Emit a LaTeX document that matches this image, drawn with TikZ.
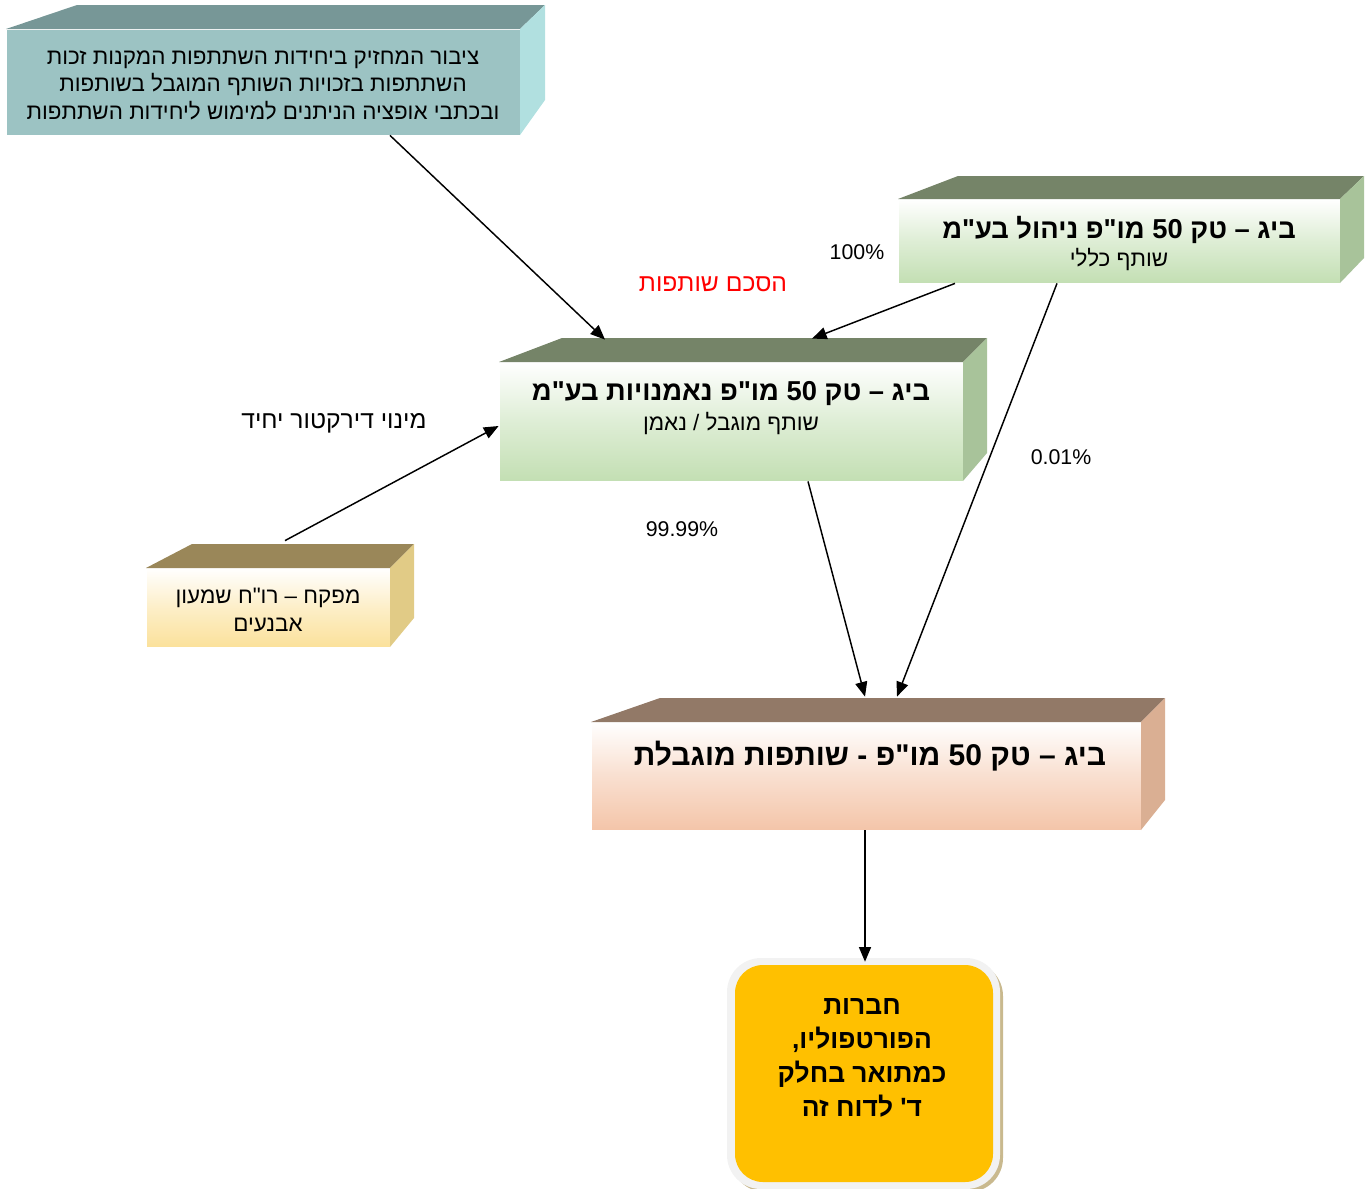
\documentclass[tikz,border=0pt]{standalone}
\usepackage{fontspec}
\setmainfont{Liberation Sans}
\newfontfamily\heb[Script=Hebrew,Ligatures=TeXOff]{Liberation Sans}
\TeXXeTstate=1
\usetikzlibrary{arrows.meta,calc}
\definecolor{tealF}{HTML}{9CC3C3}
\definecolor{tealT}{HTML}{779797}
\definecolor{tealR}{HTML}{B1E0E0}
\definecolor{grnF}{HTML}{C3DFB3}
\definecolor{grnT}{HTML}{758468}
\definecolor{grnR}{HTML}{A8C39A}
\definecolor{yelF}{HTML}{FBE19B}
\definecolor{yelT}{HTML}{9A8759}
\definecolor{yelR}{HTML}{E1CB86}
\definecolor{salF}{HTML}{F4C5A9}
\definecolor{salT}{HTML}{927967}
\definecolor{salR}{HTML}{DAAF93}
\definecolor{portO}{HTML}{FFC000}
\definecolor{portRim}{HTML}{F2F2F2}
\definecolor{portSh}{HTML}{C9B98E}
\tikzset{
  conn/.style={line width=1.1pt,-{Triangle[length=11pt,width=9pt]}},
  front/.style={inner sep=0pt,draw=white,line width=0.6pt},
  grad/.style={top color=white,bottom color=#1,middle color=#1!55},
  lbl/.style={font=\fontsize{16}{19}\selectfont,inner sep=0pt},
  htext/.style={font=\heb\fontsize{16.8}{20.6}\selectfont,align=center,inner sep=0pt},
  bigtext/.style={font=\heb\fontsize{18.5}{22}\selectfont,inner sep=0pt},
  ttl/.style={font=\heb\bfseries\fontsize{20.5}{24}\selectfont,inner sep=0pt},
  porttext/.style={font=\heb\bfseries\fontsize{19.8}{25.5}\selectfont,align=center,inner sep=0pt},
}
\begin{document}
\begin{tikzpicture}[x=0.75pt,y=-0.75pt]
\useasboundingbox (0,0) rectangle (1368,1189);

% ---------- public (teal) ----------
\node[front,fill=tealF,minimum width={514*0.75pt},minimum height={106*0.75pt}] (pub) at (263,82) {};
\fill[tealT] (6,29) -- (77,5) -- (545,5) -- (520,29) -- cycle;
\fill[tealR] (520,29) -- (545,5) -- (545,100) -- (520,135) -- cycle;
\node[htext] (pubt) at (263,85) {\beginR ציבור המחזיק ביחידות השתתפות המקנות זכות\endR\\\beginR השתתפות בזכויות השותף המוגבל בשותפות\endR\\\beginR ובכתבי אופציה הניתנים למימוש ליחידות השתתפות\endR};

% ---------- general partner (green, top right) ----------
\node[front,grad=grnF,minimum width={442*0.75pt},minimum height={84*0.75pt}] (gen) at (1119,241) {};
\fill[grnT] (898,199) -- (958,176) -- (1364,176) -- (1340,199) -- cycle;
\fill[grnR] (1340,199) -- (1364,176) -- (1364,258) -- (1340,283) -- cycle;
\node[ttl] (gent) at (1119,230) {\beginR ביג – טק 50 מו"פ ניהול בע"מ\endR};
\node[htext] (gens) at (1119,259) {\beginR שותף כללי\endR};

% ---------- trustee (green, middle) ----------
\node[front,grad=grnF,minimum width={464*0.75pt},minimum height={119*0.75pt}] (mid) at (731,421.5) {};
\fill[grnT] (499,362) -- (562,338) -- (987,338) -- (963,362) -- cycle;
\fill[grnR] (963,362) -- (987,338) -- (987,453) -- (963,481) -- cycle;
\node[ttl] (midt) at (731,394) {\beginR ביג – טק 50 מו"פ נאמנויות בע"מ\endR};
\node[htext] (mids) at (731,423) {\beginR שותף מוגבל / נאמן\endR};

% ---------- supervisor (yellow) ----------
\node[front,grad=yelF,minimum width={244*0.75pt},minimum height={79*0.75pt}] (sup) at (268,607.5) {};
\fill[yelT] (146,568) -- (192,544) -- (414,544) -- (390,568) -- cycle;
\fill[yelR] (390,568) -- (414,544) -- (414,618) -- (390,647) -- cycle;
\node[htext] (supt) at (268,610) {\beginR מפקח – רו"ח שמעון\endR\\\beginR אבנעים\endR};

% ---------- limited partnership (salmon) ----------
\node[front,grad=salF,minimum width={550*0.75pt},minimum height={108*0.75pt}] (lp) at (866,776) {};
\fill[salT] (591,722) -- (660,698) -- (1165,698) -- (1141,722) -- cycle;
\fill[salR] (1141,722) -- (1165,698) -- (1165,800) -- (1141,830) -- cycle;
\node[ttl,font=\heb\bfseries\fontsize{22.5}{26}\selectfont] (lpt) at (870,756) {\beginR ביג – טק 50 מו"פ - שותפות מוגבלת\endR};

% ---------- portfolio companies ----------
\fill[portSh,rounded corners=34pt*0.75] (731,962) rectangle (1003,1192);
\fill[portRim,rounded corners=34pt*0.75] (727,958) rectangle (1000,1189);
\node[fill=portO,rounded corners={28*0.75pt},minimum width={258*0.75pt},minimum height={217*0.75pt},inner sep=0pt] (port) at (864,1073.5) {};
\node[porttext] (portt) at (862,1058) {\beginR חברות\endR\\\beginR הפורטפוליו,\endR\\\beginR כמתואר בחלק\endR\\\beginR ד' לדוח זה\endR};

% ---------- labels ----------
\node[bigtext,text=red] (agr) at (713,284) {\beginR הסכם שותפות\endR};
\node[bigtext] (dir) at (334,423) {\beginR מינוי דירקטור יחיד\endR};
\node[lbl] (p100) at (857,252) {100\%};
\node[lbl] (p001) at (1061,457) {0.01\%};
\node[lbl] (p9999) at (682,529) {99.99\%};

% ---------- connectors ----------
\draw[conn] (pub.south -| 390,0) -- ($(mid.north -| 605,0)+(0,-22)$);
\draw[conn] (gen.south -| 955,0) -- ($(mid.north -| 812,0)+(0,-23)$);
\draw[conn] (gen.south -| 1057,0) -- ($(lp.north -| 897,0)+(0,-25)$);
\draw[conn] (mid.south -| 808,0) -- ($(lp.north -| 865,0)+(0,-25)$);
\draw[conn] ($(sup.north -| 285,0)+(0,-27)$) -- (mid.west |- 0,426);
\draw[conn] (lp.south -| 865,0) -- ($(port.north)+(1,-3)$);
\end{tikzpicture}
\end{document}
